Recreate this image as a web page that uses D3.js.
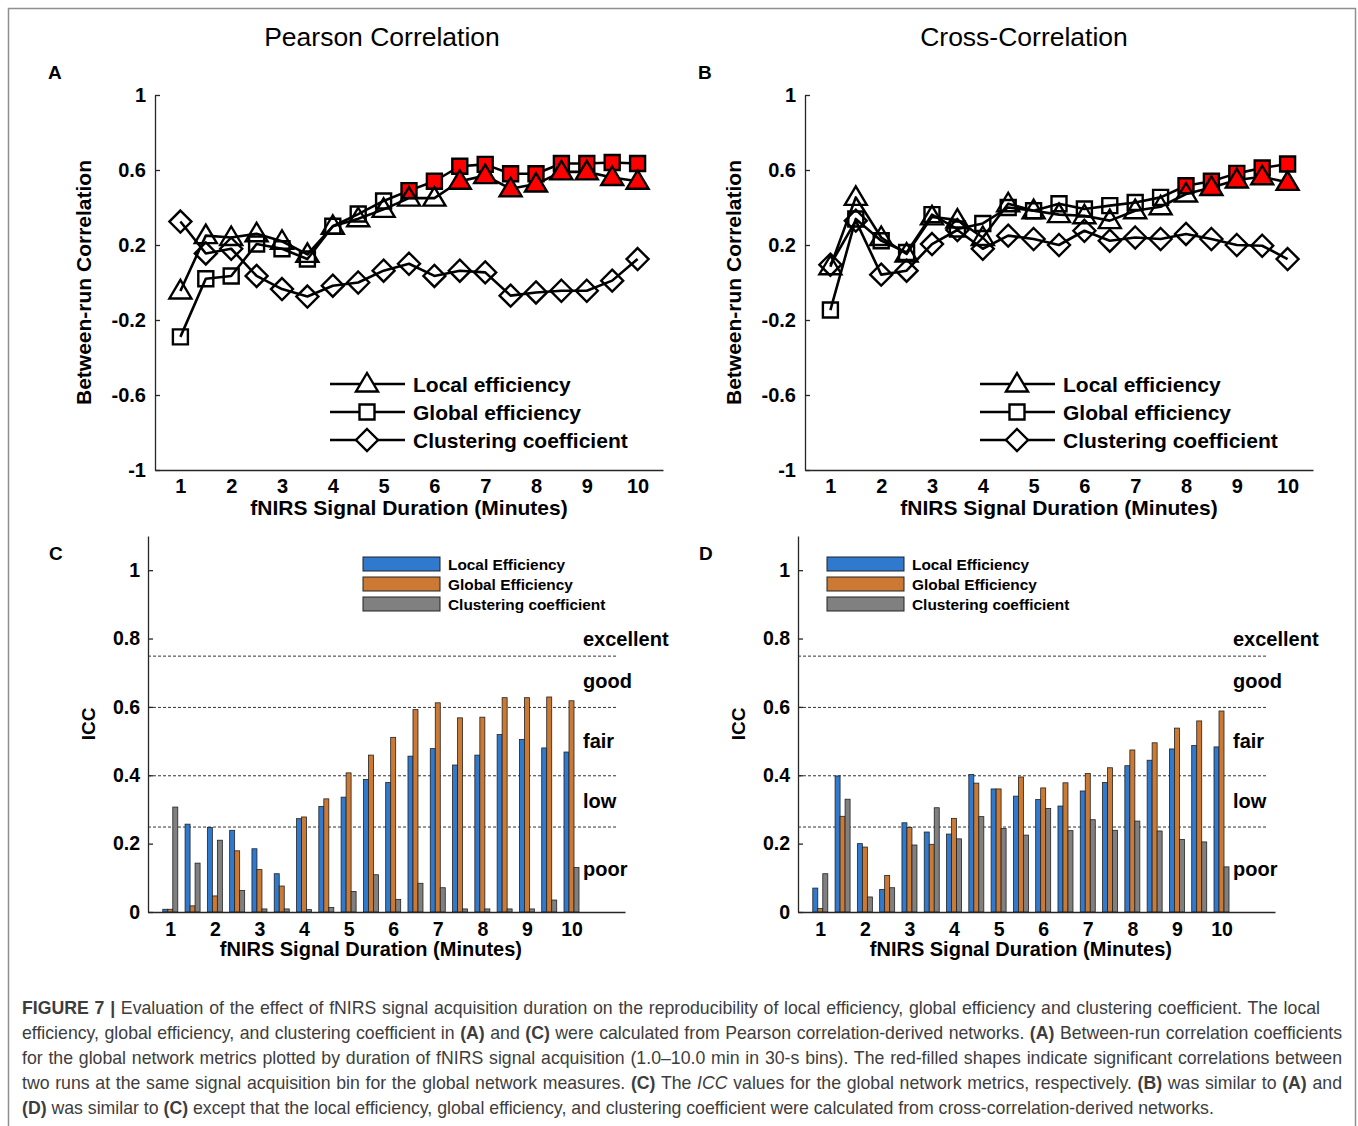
<!DOCTYPE html>
<html>
<head>
<meta charset="utf-8">
<script src="https://cdn.jsdelivr.net/npm/d3@7"></script>
<style>
  body { margin: 0; background: #fff; }
  svg text { font-family: "Liberation Sans", Arial, Helvetica, sans-serif; fill: #000; }
  #caption { position: absolute; left: 22px; top: 996px; font-family: "Liberation Sans", Arial, sans-serif;
             font-size: 17.7px; line-height: 25px; color: #3d3d3d; }
  #caption div { white-space: nowrap; text-align: justify; text-align-last: justify; }
  #caption div.last { text-align-last: left; }
</style>
</head>
<body>
<svg id="fig" width="1358" height="1126"></svg>
<div id="caption"></div>
<script>
// x positions: 30-s bins from 1 to 10 minutes
var minutes = [1, 1.5, 2, 2.5, 3, 3.5, 4, 4.5, 5, 5.5, 6, 6.5, 7, 7.5, 8, 8.5, 9, 9.5, 10];
var minuteTicks = [1, 2, 3, 4, 5, 6, 7, 8, 9, 10];
var corrTicks = [-1, -0.6, -0.2, 0.2, 0.6, 1];
var iccTicks = [0, 0.2, 0.4, 0.6, 0.8, 1];

// A - Pearson correlation, between-run correlation
var pearsonLocal  = [-0.045, 0.25, 0.24, 0.26, 0.22, 0.15, 0.30, 0.34, 0.39, 0.45, 0.45, 0.54, 0.57, 0.50, 0.525, 0.59, 0.59, 0.56, 0.54];
var pearsonGlobal = [-0.29, 0.02, 0.035, 0.205, 0.18, 0.125, 0.30, 0.365, 0.435, 0.49, 0.54, 0.62, 0.63, 0.58, 0.58, 0.635, 0.635, 0.64, 0.635];
var pearsonClust  = [0.325, 0.155, 0.18, 0.035, -0.035, -0.075, -0.017, 0.0, 0.063, 0.10, 0.035, 0.063, 0.054, -0.07, -0.053, -0.044, -0.044, 0.01, 0.125];
var pearsonLocalSig  = [0, 0, 0, 0, 0, 0, 0, 0, 0, 0, 0, 1, 1, 1, 1, 1, 1, 1, 1];
var pearsonGlobalSig = [0, 0, 0, 0, 0, 0, 0, 0, 0, 1, 1, 1, 1, 1, 1, 1, 1, 1, 1];
var pearsonClustSig  = [0, 0, 0, 0, 0, 0, 0, 0, 0, 0, 0, 0, 0, 0, 0, 0, 0, 0, 0];

// B - cross-correlation, between-run correlation
var crossLocal  = [0.084, 0.454, 0.24, 0.152, 0.35, 0.333, 0.24, 0.42, 0.383, 0.362, 0.356, 0.33, 0.383, 0.404, 0.472, 0.507, 0.547, 0.564, 0.534];
var crossGlobal = [-0.147, 0.339, 0.223, 0.16, 0.362, 0.285, 0.315, 0.40, 0.383, 0.42, 0.392, 0.41, 0.427, 0.454, 0.516, 0.54, 0.582, 0.611, 0.632];
var crossClust  = [0.095, 0.33, 0.042, 0.063, 0.205, 0.28, 0.18, 0.25, 0.232, 0.20, 0.276, 0.223, 0.24, 0.232, 0.259, 0.232, 0.20, 0.196, 0.125];
var crossLocalSig  = [0, 0, 0, 0, 0, 0, 0, 0, 0, 0, 0, 0, 0, 0, 0, 1, 1, 1, 1];
var crossGlobalSig = [0, 0, 0, 0, 0, 0, 0, 0, 0, 0, 0, 0, 0, 0, 1, 1, 1, 1, 1];
var crossClustSig  = [0, 0, 0, 0, 0, 0, 0, 0, 0, 0, 0, 0, 0, 0, 0, 0, 0, 0, 0];

// C - ICC, Pearson correlation networks
var iccPearsonLocal  = [0.008, 0.257, 0.247, 0.239, 0.185, 0.112, 0.273, 0.309, 0.336, 0.388, 0.379, 0.456, 0.478, 0.430, 0.459, 0.519, 0.505, 0.480, 0.468];
var iccPearsonGlobal = [0.008, 0.018, 0.047, 0.179, 0.124, 0.076, 0.278, 0.331, 0.407, 0.459, 0.511, 0.592, 0.612, 0.568, 0.570, 0.627, 0.627, 0.629, 0.618];
var iccPearsonClust  = [0.307, 0.143, 0.210, 0.063, 0.009, 0.009, 0.007, 0.013, 0.060, 0.109, 0.037, 0.084, 0.071, 0.009, 0.009, 0.009, 0.009, 0.035, 0.130];

// D - ICC, cross-correlation networks
var iccCrossLocal  = [0.070, 0.398, 0.200, 0.066, 0.261, 0.234, 0.228, 0.402, 0.360, 0.339, 0.329, 0.310, 0.354, 0.379, 0.428, 0.444, 0.477, 0.487, 0.483];
var iccCrossGlobal = [0.010, 0.280, 0.190, 0.107, 0.247, 0.198, 0.274, 0.377, 0.360, 0.395, 0.363, 0.378, 0.405, 0.422, 0.474, 0.495, 0.538, 0.559, 0.588];
var iccCrossClust  = [0.112, 0.330, 0.044, 0.071, 0.196, 0.305, 0.214, 0.279, 0.244, 0.225, 0.303, 0.238, 0.270, 0.239, 0.266, 0.237, 0.212, 0.205, 0.132];

// ICC reliability bands
var iccThresholds = [0.25, 0.4, 0.6, 0.75];
var iccBands = ['poor', 'low', 'fair', 'good', 'excellent'];

var lineSeriesNames = ['Local efficiency', 'Global efficiency', 'Clustering coefficient'];
var barSeriesNames = ['Local Efficiency', 'Global Efficiency', 'Clustering coefficient'];

var captionLines = [
  '<b>FIGURE 7 |</b> Evaluation of the effect of fNIRS signal acquisition duration on the reproducibility of local efficiency, global efficiency and clustering coefficient. The local',
  'efficiency, global efficiency, and clustering coefficient in <b>(A)</b> and <b>(C)</b> were calculated from Pearson correlation-derived networks. <b>(A)</b> Between-run correlation coefficients',
  'for the global network metrics plotted by duration of fNIRS signal acquisition (1.0–10.0 min in 30-s bins). The red-filled shapes indicate significant correlations between',
  'two runs at the same signal acquisition bin for the global network measures. <b>(C)</b> The <i>ICC</i> values for the global network metrics, respectively. <b>(B)</b> was similar to <b>(A)</b> and',
  '<b>(D)</b> was similar to <b>(C)</b> except that the local efficiency, global efficiency, and clustering coefficient were calculated from cross-correlation-derived networks.'
];

var MARKERS = {
      triangle: 'M0,-11L11,7.5L-11,7.5Z',
      square:   'M-7.5,-7.5H7.5V7.5H-7.5Z',
      diamond:  'M0,-11L11,0L0,11L-11,0Z'
    },
    BAR_COLORS = ['#2f79cf', '#cc7a33', '#808080'],
    AXIS_COLOR = '#262626';

var svg = d3.select('#fig');

// outer frame
svg.append('rect')
  .attr('x', 8.5).attr('y', 8.5)
  .attr('width', 1347).attr('height', 1140)
  .attr('fill', 'none')
  .attr('stroke', '#8f8f8f')
  .attr('stroke-width', 1.5);

var styleAxis = function(sel, size) {
  sel.select('.domain').attr('stroke', AXIS_COLOR).attr('stroke-width', 1.3);
  sel.selectAll('.tick line').attr('stroke', AXIS_COLOR).attr('stroke-width', 1.3);
  sel.selectAll('.tick text')
    .attr('fill', '#000')
    .style('font-family', '"Liberation Sans", Arial, sans-serif')
    .style('font-size', size + 'px')
    .style('font-weight', 'bold');
};

var drawLinePanel = function(opts) {
  var x = d3.scaleLinear().domain([0.5, 10.5]).range([opts.left, opts.left + 508]),
      y = d3.scaleLinear().domain([-1, 1]).range([470, 95]),
      g = svg.append('g'),
      line = d3.line()
        .x(function(d) { return x(d.t); })
        .y(function(d) { return y(d.v); });

  g.append('text')
    .attr('x', opts.titleX).attr('y', 46)
    .attr('text-anchor', 'middle')
    .style('font-size', '26.5px')
    .text(opts.title);

  g.append('text')
    .attr('x', opts.left - 107).attr('y', 79)
    .style('font-size', '19px').style('font-weight', 'bold')
    .text(opts.letter);

  g.append('g')
    .attr('transform', 'translate(0,470)')
    .call(d3.axisBottom(x).tickValues(minuteTicks).tickSize(0).tickPadding(9).tickFormat(String))
    .call(styleAxis, 20);

  g.append('g')
    .attr('transform', 'translate(' + x.range()[0] + ',0)')
    .call(d3.axisLeft(y).tickValues(corrTicks).tickSizeInner(-5).tickSizeOuter(0).tickPadding(9).tickFormat(String))
    .call(styleAxis, 20);

  g.append('text')
    .attr('transform', 'translate(' + (opts.left - 64) + ',' + y(0) + ') rotate(-90)')
    .attr('text-anchor', 'middle')
    .style('font-size', '21px').style('font-weight', 'bold')
    .text('Between-run Correlation');

  g.append('text')
    .attr('x', x(5.5)).attr('y', 515)
    .attr('text-anchor', 'middle')
    .style('font-size', '21px').style('font-weight', 'bold')
    .text('fNIRS Signal Duration (Minutes)');

  // clustering first, then global, then local on top
  [2, 1, 0].forEach(function(i) {
    var s = opts.series[i],
        pts = minutes.map(function(t, j) { return { t: t, v: s.values[j], sig: s.sig[j] }; }),
        sg = g.append('g');

    sg.append('path')
      .datum(pts)
      .attr('d', line)
      .attr('fill', 'none')
      .attr('stroke', '#000')
      .attr('stroke-width', 2.6)
      .attr('stroke-linejoin', 'round');

    sg.selectAll('.mk')
      .data(pts)
      .enter().append('path')
        .attr('class', 'mk')
        .attr('transform', function(d) { return 'translate(' + x(d.t) + ',' + y(d.v) + ')'; })
        .attr('d', MARKERS[s.marker])
        .attr('fill', function(d) { return d.sig ? '#ff0000' : 'none'; })
        .attr('stroke', '#000')
        .attr('stroke-width', 2.4)
        .attr('stroke-linejoin', 'miter');
  });

  // legend
  var legend = g.selectAll('.legend')
    .data(opts.series)
    .enter().append('g')
      .attr('class', 'legend')
      .attr('transform', function(d, i) { return 'translate(' + (opts.left + 175) + ',' + (384 + i * 28) + ')'; });

  legend.append('line')
    .attr('x1', 0).attr('x2', 75)
    .attr('stroke', '#000').attr('stroke-width', 2.6);

  legend.append('path')
    .attr('transform', 'translate(37,0)')
    .attr('d', function(d) { return MARKERS[d.marker]; })
    .attr('fill', '#fff')
    .attr('stroke', '#000')
    .attr('stroke-width', 2.4);

  legend.append('text')
    .attr('x', 83).attr('dy', '0.36em')
    .style('font-size', '21px').style('font-weight', 'bold')
    .text(function(d) { return d.name; });
};

var drawBarPanel = function(opts) {
  var x = d3.scaleLinear().domain([0.5, 11.2]).range([opts.left, opts.left + 477]),
      y = d3.scaleLinear().domain([0, 1.1]).range([912, 536]),
      sub = d3.scaleBand().domain([0, 1, 2]).range([-7.5, 7.5]),
      g = svg.append('g');

  g.append('text')
    .attr('x', opts.left - 99).attr('y', 560)
    .style('font-size', '19px').style('font-weight', 'bold')
    .text(opts.letter);

  // reliability band lines
  g.selectAll('.band')
    .data(iccThresholds)
    .enter().append('line')
      .attr('x1', opts.left).attr('x2', opts.left + 469)
      .attr('y1', function(d) { return y(d) + 0.5; })
      .attr('y2', function(d) { return y(d) + 0.5; })
      .attr('stroke', '#333')
      .attr('stroke-width', 1)
      .attr('stroke-dasharray', '3,2');

  var bandMid = iccBands.map(function(name, i) {
    var lo = i === 0 ? 0 : iccThresholds[i - 1],
        hi = i < iccThresholds.length ? iccThresholds[i] : lo + 0.1;
    return { name: name, v: (lo + hi) / 2 };
  });

  g.selectAll('.bandLabel')
    .data(bandMid)
    .enter().append('text')
      .attr('x', opts.left + 435)
      .attr('y', function(d) { return y(d.v); })
      .attr('dy', '0.36em')
      .style('font-size', '20px').style('font-weight', 'bold')
      .text(function(d) { return d.name; });

  opts.series.forEach(function(values, k) {
    g.selectAll('.bar' + k)
      .data(values)
      .enter().append('rect')
        .attr('x', function(d, j) { return x(minutes[j]) + sub(k); })
        .attr('y', function(d) { return y(d); })
        .attr('width', sub.bandwidth())
        .attr('height', function(d) { return y(0) - y(d); })
        .attr('fill', BAR_COLORS[k])
        .attr('stroke', '#222')
        .attr('stroke-width', 0.8);
  });

  g.append('g')
    .attr('transform', 'translate(0,912)')
    .call(d3.axisBottom(x).tickValues(minuteTicks).tickSize(0).tickPadding(10).tickFormat(String))
    .call(styleAxis, 19.5);

  g.append('g')
    .attr('transform', 'translate(' + opts.left + ',0)')
    .call(d3.axisLeft(y).tickValues(iccTicks).tickSizeInner(-5).tickSizeOuter(0).tickPadding(8).tickFormat(String))
    .call(styleAxis, 19.5);

  g.append('text')
    .attr('transform', 'translate(' + (opts.left - 53) + ',' + 724 + ') rotate(-90)')
    .attr('text-anchor', 'middle')
    .style('font-size', '19px').style('font-weight', 'bold')
    .text('ICC');

  g.append('text')
    .attr('x', x(5.5)).attr('y', 956)
    .attr('text-anchor', 'middle')
    .style('font-size', '20px').style('font-weight', 'bold')
    .text('fNIRS Signal Duration (Minutes)');

  var legend = g.selectAll('.legend')
    .data(barSeriesNames)
    .enter().append('g')
      .attr('transform', function(d, i) { return 'translate(' + opts.legendX + ',' + (557 + i * 20) + ')'; });

  legend.append('rect')
    .attr('width', 77).attr('height', 14)
    .attr('fill', function(d, i) { return BAR_COLORS[i]; })
    .attr('stroke', '#222').attr('stroke-width', 1);

  legend.append('text')
    .attr('x', 85).attr('y', 7).attr('dy', '0.36em')
    .style('font-size', '15.4px').style('font-weight', 'bold')
    .text(function(d) { return d; });
};

var lineSeries = function(local, global, clust, localSig, globalSig, clustSig) {
  return [
    { name: lineSeriesNames[0], marker: 'triangle', values: local,  sig: localSig },
    { name: lineSeriesNames[1], marker: 'square',   values: global, sig: globalSig },
    { name: lineSeriesNames[2], marker: 'diamond',  values: clust,  sig: clustSig }
  ];
};

drawLinePanel({ left: 155, titleX: 382, title: 'Pearson Correlation', letter: 'A',
  series: lineSeries(pearsonLocal, pearsonGlobal, pearsonClust, pearsonLocalSig, pearsonGlobalSig, pearsonClustSig) });
drawLinePanel({ left: 805, titleX: 1024, title: 'Cross-Correlation', letter: 'B',
  series: lineSeries(crossLocal, crossGlobal, crossClust, crossLocalSig, crossGlobalSig, crossClustSig) });

drawBarPanel({ left: 148, letter: 'C', legendX: 363,
  series: [iccPearsonLocal, iccPearsonGlobal, iccPearsonClust] });
drawBarPanel({ left: 798, letter: 'D', legendX: 827,
  series: [iccCrossLocal, iccCrossGlobal, iccCrossClust] });

// caption, one justified row per line of the original
d3.select('#caption').selectAll('div')
  .data(captionLines)
  .enter().append('div')
    .attr('class', function(d, i) { return i === captionLines.length - 1 ? 'last' : null; })
    .style('width', function(d, i) { return (i === 0 ? 1298 : 1320) + 'px'; })
    .html(function(d) { return d; });
</script>
</body>
</html>
